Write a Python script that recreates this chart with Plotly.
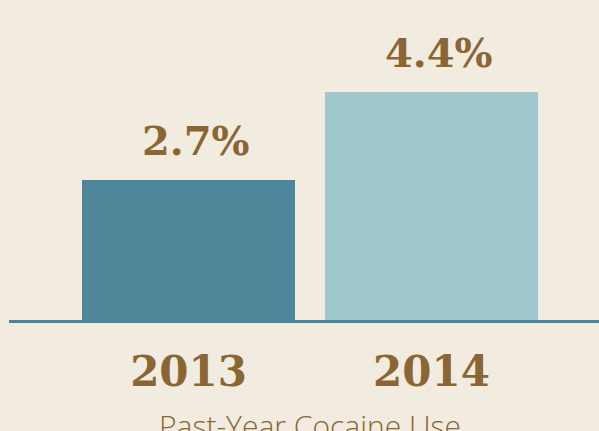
import plotly.graph_objects as go

categories = ["2013", "2014"]
values = [2.7, 4.4]
value_labels = ["2.7%", "4.4%"]
bar_colors = ["#4E8699", "#9EC7CE"]
title_text = "Past-Year Cocaine Use"

BG = "#F2EBDF"
BROWN = "#8A6634"

xpos = list(range(len(categories)))

fig = go.Figure()
fig.add_trace(go.Bar(
    x=xpos, y=values, marker=dict(color=bar_colors, line=dict(width=0)),
    width=0.877, hoverinfo="skip", showlegend=False,
))

for xp, v, lab in zip(xpos, values, value_labels):
    fig.add_annotation(
        x=xp, y=v, xref="x", yref="y", text=lab, showarrow=False,
        yanchor="bottom", yshift=14, xshift=7,
        font=dict(family="DejaVu Serif", size=40, color=BROWN, weight="bold"),
    )

fig.add_annotation(
    x=0.51, y=-0.258, xref="paper", yref="paper", text=title_text, showarrow=False,
    xanchor="center", yanchor="top",
    font=dict(family="Open Sans", size=30, color=BROWN, weight=300),
)

fig.update_layout(
    width=599, height=431,
    margin=dict(l=9, r=0, t=0, b=111),
    paper_bgcolor=BG, plot_bgcolor=BG,
    bargap=0,
    xaxis=dict(
        range=[-0.739, 1.689], tickmode="array", tickvals=xpos, ticktext=categories,
        showgrid=False, zeroline=False, showline=True, linecolor="#4A8397", linewidth=3,
        ticks="", ticklabelstandoff=13,
        tickfont=dict(family="DejaVu Serif", size=42, color=BROWN, weight="bold"),
        fixedrange=True,
    ),
    yaxis=dict(range=[0, 6.17], visible=False, fixedrange=True),
)

fig.write_html(
    "out.html",
    config={"displayModeBar": False},
    post_script="document.body.style.margin='0';document.body.style.overflow='hidden';",
)
